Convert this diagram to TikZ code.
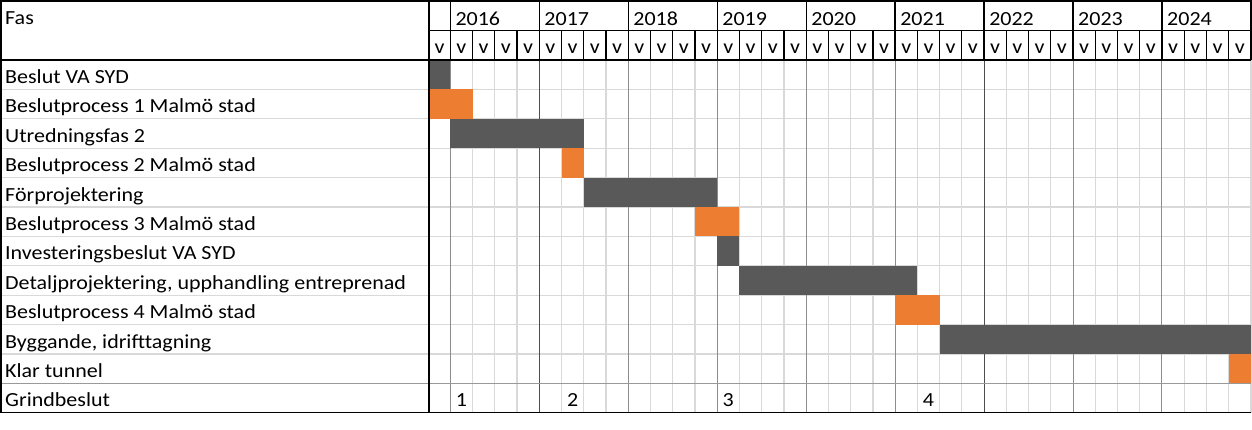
\documentclass[tikz,border=0pt]{standalone}
\usepackage{fontspec}
\setmainfont{Carlito}[FakeStretch=1.10]
\definecolor{bardark}{HTML}{595959}
\definecolor{barorange}{HTML}{ED7D31}
\definecolor{gridlight}{HTML}{D9D9D9}
\definecolor{yearline}{HTML}{8C8C8C}
\definecolor{yeardark}{HTML}{4D4D4D}
\definecolor{dotgray}{HTML}{999999}
\begin{document}
\begin{tikzpicture}[x=1pt,y=-1pt,
  txt/.style={inner sep=0pt,font=\fontsize{20}{21}\selectfont},
  lbl/.style={txt,anchor=base west},
  ctr/.style={txt,anchor=base},
  light/.style={draw=gridlight,line width=1.3pt},
  yrl/.style={draw=yearline,line width=1pt},
  yrd/.style={draw=yeardark,line width=1pt},
  blk/.style={draw=black,line width=1.3pt},
  thick blk/.style={draw=black,line width=2.2pt},
  dotl/.style={draw=dotgray,line width=1.5pt},
  darkbar/.style={fill=bardark},
  orangebar/.style={fill=barorange}]
\def\xs{450.3}
\def\cw{22.24}
\def\rh{29.4}
\def\xe{1250.9}
\def\yb{412.7}
\useasboundingbox[fill=white] (0,0) rectangle (1252,429);
% light grid
\foreach \r in {1,...,10} \draw[light] (1,{60+\r*\rh}) -- (\xe,{60+\r*\rh});
\foreach \q in {1,2,3,5,6,7,9,10,11,13,14,15,17,18,19,21,22,23,25,26,27,29,30,31,33,34,35,36}
  \draw[light] ({\xs+\q*\cw},60) -- ({\xs+\q*\cw},\yb);
% year lines in body
\foreach \q in {0,8,12,16,20,28,32}
  \draw[yrl] ({\xs+\q*\cw},60) -- ({\xs+\q*\cw},\yb);
\foreach \q in {4,24}
  \draw[yrd] ({\xs+\q*\cw},60) -- ({\xs+\q*\cw},\yb);
% bars
\newcommand\ganttbar[4]{\fill[#4] ({#2},{60+#1*\rh}) rectangle ({#3},{60+(#1+1)*\rh});}
\ganttbar{0}{429}{\xs}{darkbar}
\ganttbar{1}{429}{\xs+\cw}{orangebar}
\ganttbar{2}{\xs}{\xs+6*\cw}{darkbar}
\ganttbar{3}{\xs+5*\cw}{\xs+6*\cw}{orangebar}
\ganttbar{4}{\xs+6*\cw}{\xs+12*\cw}{darkbar}
\ganttbar{5}{\xs+11*\cw}{\xs+13*\cw}{orangebar}
\ganttbar{6}{\xs+12*\cw}{\xs+13*\cw}{darkbar}
\ganttbar{7}{\xs+13*\cw}{\xs+21*\cw}{darkbar}
\ganttbar{8}{\xs+20*\cw}{\xs+22*\cw}{orangebar}
\ganttbar{9}{\xs+22*\cw}{\xe}{darkbar}
\ganttbar{10}{\xs+35*\cw}{\xe}{orangebar}
% line above Grindbeslut
\draw[dotl] (1,{60+11*\rh}) -- (\xe,{60+11*\rh});
% header and borders
\draw[blk] (1,1) -- (\xe,1);
\draw[blk] (429,30.7) -- (\xe,30.7);
\draw[thick blk] (0,60) -- (\xe,60);
\draw[blk] (0,\yb) -- (\xe,\yb);
\draw[blk] (1,0) -- (1,\yb);
\draw[blk] (429,0) -- (429,\yb);
\draw[blk] (\xs,0) -- (\xs,60);
\foreach \q in {4,8,...,32} \draw[blk] ({\xs+\q*\cw},0) -- ({\xs+\q*\cw},60);
\foreach \q in {1,2,...,35} \draw[blk] ({\xs+\q*\cw},30.7) -- ({\xs+\q*\cw},60);
\draw[blk] (\xe,0) -- (\xe,60);
% header texts
\node[lbl] (fas) at (5,24) {Fas};
\foreach \y [count=\i from 0] in {2016,2017,2018,2019,2020,2021,2022,2023,2024}
  \node[lbl] (yr\y) at ({\xs+4*\i*\cw+5},25) {\y};
\node[ctr] (vpre) at ({(429+\xs)/2},53) {v};
\foreach \q in {0,...,35} \node[ctr] (v\q) at ({\xs+(\q+0.5)*\cw},53) {v};
% row labels
\foreach \t [count=\i from 0] in {Beslut VA SYD,Beslutprocess 1 Malmö stad,Utredningsfas 2,Beslutprocess 2 Malmö stad,Förprojektering,Beslutprocess 3 Malmö stad,Investeringsbeslut VA SYD,{Detaljprojektering, upphandling entreprenad},Beslutprocess 4 Malmö stad,{Byggande, idrifttagning},Klar tunnel,Grindbeslut}
  \node[lbl] (row\i) at (5,{60+(\i+1)*\rh-6}) {\t};
% gate numbers
\node[ctr] (g1) at ({\xs+0.5*\cw},{60+12*\rh-6}) {1};
\node[ctr] (g2) at ({\xs+5.5*\cw},{60+12*\rh-6}) {2};
\node[ctr] (g3) at ({\xs+12.5*\cw},{60+12*\rh-6}) {3};
\node[ctr] (g4) at ({\xs+21.5*\cw},{60+12*\rh-6}) {4};
\end{tikzpicture}
\end{document}
